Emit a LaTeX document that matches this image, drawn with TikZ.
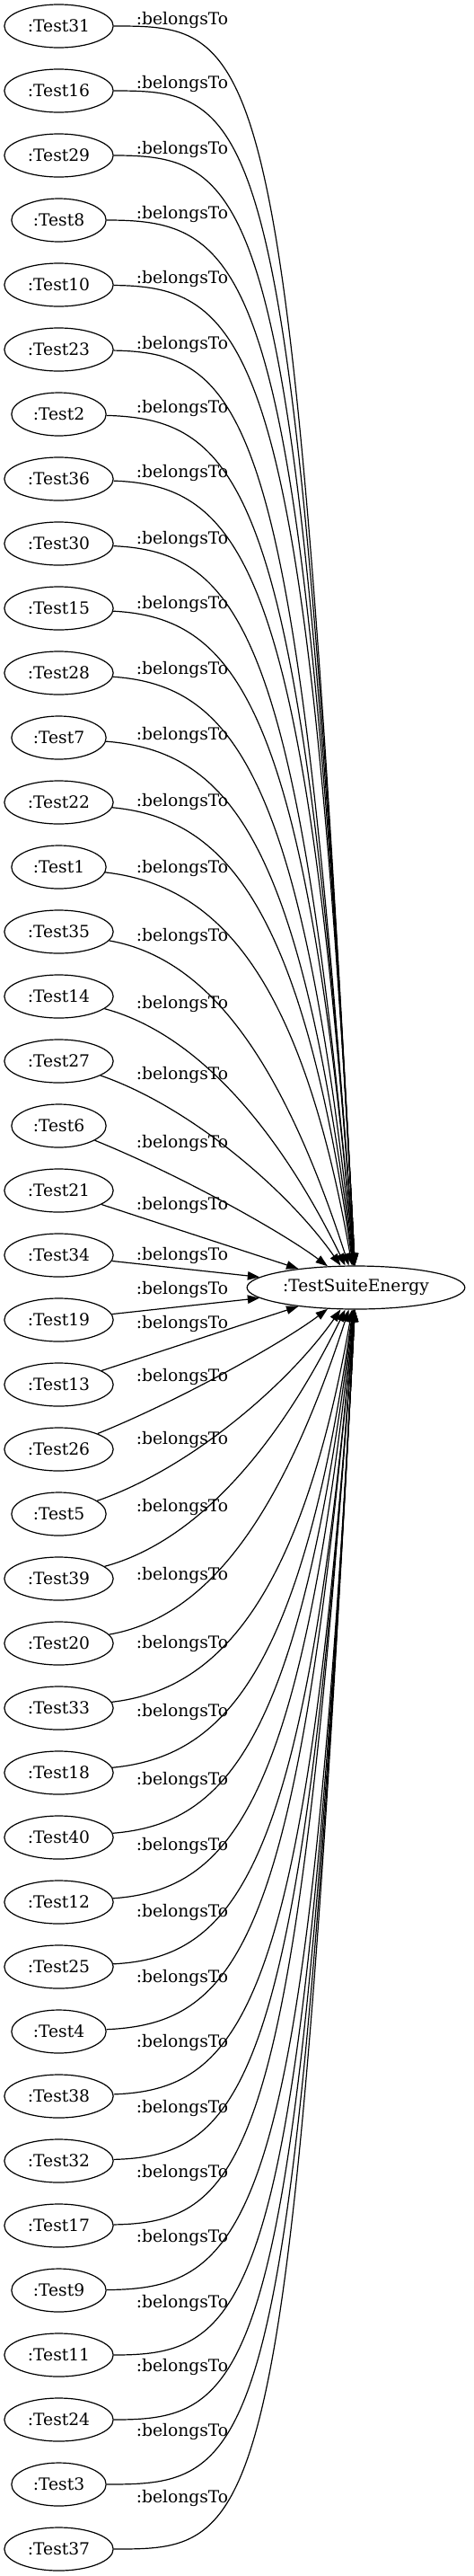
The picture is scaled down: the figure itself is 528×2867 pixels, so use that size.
\documentclass[tikz,border=0pt]{standalone}
\usepackage{fontspec}
\setmainfont{DejaVu Serif}
\usetikzlibrary{arrows.meta,shapes.geometric}

\begin{document}
\begin{tikzpicture}[
  x=0.75pt,y=0.75pt,line width=0.9pt,
  every node/.style={font=\fontsize{14pt}{17pt}\selectfont},
  test/.style={draw,ellipse,inner sep=0pt,minimum width=91pt,minimum height=36pt},
  testshort/.style={test,minimum width=79pt},
  lbl/.style={inner sep=0pt},
  link/.style={-{Triangle[length=10pt,width=7pt]}}
]
  \useasboundingbox (0,0) rectangle (528,-2867);

  \node[test,minimum width=182pt] (suite) at (396.5,-1433) {:TestSuiteEnergy};

  % tests
  \node[test]      (t31) at (65.5,-29)   {:Test31};
  \node[test]      (t16) at (65.5,-101)  {:Test16};
  \node[test]      (t29) at (65.5,-173)  {:Test29};
  \node[testshort] (t8)  at (65.5,-245)  {:Test8};
  \node[test]      (t10) at (65.5,-317)  {:Test10};
  \node[test]      (t23) at (65.5,-389)  {:Test23};
  \node[testshort] (t2)  at (65.5,-461)  {:Test2};
  \node[test]      (t36) at (65.5,-533)  {:Test36};
  \node[test]      (t30) at (65.5,-605)  {:Test30};
  \node[test]      (t15) at (65.5,-677)  {:Test15};
  \node[test]      (t28) at (65.5,-749)  {:Test28};
  \node[testshort] (t7)  at (65.5,-821)  {:Test7};
  \node[test]      (t22) at (65.5,-893)  {:Test22};
  \node[testshort] (t1)  at (65.5,-965)  {:Test1};
  \node[test]      (t35) at (65.5,-1037) {:Test35};
  \node[test]      (t14) at (65.5,-1109) {:Test14};
  \node[test]      (t27) at (65.5,-1181) {:Test27};
  \node[testshort] (t6)  at (65.5,-1253) {:Test6};
  \node[test]      (t21) at (65.5,-1325) {:Test21};
  \node[test]      (t34) at (65.5,-1397) {:Test34};
  \node[test]      (t19) at (65.5,-1469) {:Test19};
  \node[test]      (t13) at (65.5,-1541) {:Test13};
  \node[test]      (t26) at (65.5,-1613) {:Test26};
  \node[testshort] (t5)  at (65.5,-1685) {:Test5};
  \node[test]      (t39) at (65.5,-1757) {:Test39};
  \node[test]      (t20) at (65.5,-1829) {:Test20};
  \node[test]      (t33) at (65.5,-1901) {:Test33};
  \node[test]      (t18) at (65.5,-1973) {:Test18};
  \node[test]      (t40) at (65.5,-2045) {:Test40};
  \node[test]      (t12) at (65.5,-2117) {:Test12};
  \node[test]      (t25) at (65.5,-2189) {:Test25};
  \node[testshort] (t4)  at (65.5,-2261) {:Test4};
  \node[test]      (t38) at (65.5,-2333) {:Test38};
  \node[test]      (t32) at (65.5,-2405) {:Test32};
  \node[test]      (t17) at (65.5,-2477) {:Test17};
  \node[testshort] (t9)  at (65.5,-2549) {:Test9};
  \node[test]      (t11) at (65.5,-2621) {:Test11};
  \node[test]      (t24) at (65.5,-2693) {:Test24};
  \node[testshort] (t3)  at (65.5,-2765) {:Test3};
  \node[test]      (t37) at (65.5,-2837) {:Test37};

  % edge labels
  \node[lbl] (b31) at (203,-22)   {:belongsTo};
  \node[lbl] (b16) at (203,-93)   {:belongsTo};
  \node[lbl] (b29) at (203,-166)  {:belongsTo};
  \node[lbl] (b8)  at (203,-238)  {:belongsTo};
  \node[lbl] (b10) at (203,-310)  {:belongsTo};
  \node[lbl] (b23) at (203,-383)  {:belongsTo};
  \node[lbl] (b2)  at (203,-454)  {:belongsTo};
  \node[lbl] (b36) at (203,-526)  {:belongsTo};
  \node[lbl] (b30) at (203,-600)  {:belongsTo};
  \node[lbl] (b15) at (203,-672)  {:belongsTo};
  \node[lbl] (b28) at (203,-745)  {:belongsTo};
  \node[lbl] (b7)  at (203,-818)  {:belongsTo};
  \node[lbl] (b22) at (203,-892)  {:belongsTo};
  \node[lbl] (b1)  at (203,-966)  {:belongsTo};
  \node[lbl] (b35) at (203,-1042) {:belongsTo};
  \node[lbl] (b14) at (203,-1117) {:belongsTo};
  \node[lbl] (b27) at (203,-1196) {:belongsTo};
  \node[lbl] (b6)  at (203,-1272) {:belongsTo};
  \node[lbl] (b21) at (203,-1341) {:belongsTo};
  \node[lbl] (b34) at (203,-1397) {:belongsTo};
  \node[lbl] (b19) at (203,-1435) {:belongsTo};
  \node[lbl] (b13) at (203,-1473) {:belongsTo};
  \node[lbl] (b26) at (203,-1532) {:belongsTo};
  \node[lbl] (b5)  at (203,-1602) {:belongsTo};
  \node[lbl] (b39) at (203,-1677) {:belongsTo};
  \node[lbl] (b20) at (203,-1753) {:belongsTo};
  \node[lbl] (b33) at (203,-1829) {:belongsTo};
  \node[lbl] (b18) at (203,-1905) {:belongsTo};
  \node[lbl] (b40) at (203,-1981) {:belongsTo};
  \node[lbl] (b12) at (203,-2054) {:belongsTo};
  \node[lbl] (b25) at (203,-2128) {:belongsTo};
  \node[lbl] (b4)  at (203,-2201) {:belongsTo};
  \node[lbl] (b38) at (203,-2273) {:belongsTo};
  \node[lbl] (b32) at (203,-2346) {:belongsTo};
  \node[lbl] (b17) at (203,-2418) {:belongsTo};
  \node[lbl] (b9)  at (203,-2490) {:belongsTo};
  \node[lbl] (b11) at (203,-2563) {:belongsTo};
  \node[lbl] (b24) at (203,-2634) {:belongsTo};
  \node[lbl] (b3)  at (203,-2706) {:belongsTo};
  \node[lbl] (b37) at (203,-2780) {:belongsTo};

  % edges
  \draw[link] (t31) .. controls +(0:225) and +(93:1402) .. (suite);
  \draw[link] (t16) .. controls +(0:222) and +(93:1317) .. (suite);
  \draw[link] (t29) .. controls +(0:219) and +(93:1221) .. (suite);
  \draw[link] (t8)  .. controls +(0:216) and +(93:1140) .. (suite);
  \draw[link] (t10) .. controls +(-0.5:213) and +(93:1049) .. (suite);
  \draw[link] (t23) .. controls +(-1:210) and +(94:971) .. (suite);
  \draw[link] (t2)  .. controls +(-1.5:207) and +(94:885) .. (suite);
  \draw[link] (t36) .. controls +(-2:205) and +(94:802) .. (suite);
  \draw[link] (t30) .. controls +(-2.5:201) and +(95:730) .. (suite);
  \draw[link] (t15) .. controls +(-3:197) and +(95:652) .. (suite);
  \draw[link] (t28) .. controls +(-4:193) and +(96:577) .. (suite);
  \draw[link] (t7)  .. controls +(-4.5:189) and +(97:505) .. (suite);
  \draw[link] (t22) .. controls +(-5.5:183) and +(98:435) .. (suite);
  \draw[link] (t1)  .. controls +(-6.5:176) and +(100:356) .. (suite);
  \draw[link] (t35) .. controls +(-10:170) and +(108:265) .. (suite);
  \draw[link] (t14) .. controls +(-15:162) and +(116:191) .. (suite);
  \draw[link] (t27) .. controls +(-19:155) and +(125:131) .. (suite);
  \draw[link] (t6)  .. controls +(-22:147) and +(143:101) .. (suite);
  \draw[link] (t21) -- (suite);
  \draw[link] (t34) -- (suite);
  \draw[link] (t19) -- (suite);
  \draw[link] (t13) -- (suite);
  \draw[link] (t26) .. controls +(22:147) and +(-143:101) .. (suite);
  \draw[link] (t5)  .. controls +(19:155) and +(-125:131) .. (suite);
  \draw[link] (t39) .. controls +(15:162) and +(-116:191) .. (suite);
  \draw[link] (t20) .. controls +(10:170) and +(-108:265) .. (suite);
  \draw[link] (t33) .. controls +(6.5:176) and +(-100:356) .. (suite);
  \draw[link] (t18) .. controls +(5.5:183) and +(-98:435) .. (suite);
  \draw[link] (t40) .. controls +(4.5:189) and +(-97:505) .. (suite);
  \draw[link] (t12) .. controls +(4:193) and +(-96:577) .. (suite);
  \draw[link] (t25) .. controls +(3:197) and +(-95:652) .. (suite);
  \draw[link] (t4)  .. controls +(2.5:201) and +(-95:730) .. (suite);
  \draw[link] (t38) .. controls +(2:205) and +(-94:802) .. (suite);
  \draw[link] (t32) .. controls +(1.5:207) and +(-94:885) .. (suite);
  \draw[link] (t17) .. controls +(1:210) and +(-94:971) .. (suite);
  \draw[link] (t9)  .. controls +(0.5:213) and +(-93:1049) .. (suite);
  \draw[link] (t11) .. controls +(0:216) and +(-93:1140) .. (suite);
  \draw[link] (t24) .. controls +(0:219) and +(-93:1221) .. (suite);
  \draw[link] (t3)  .. controls +(0:222) and +(-93:1317) .. (suite);
  \draw[link] (t37) .. controls +(0:225) and +(-93:1402) .. (suite);
\end{tikzpicture}
\end{document}
